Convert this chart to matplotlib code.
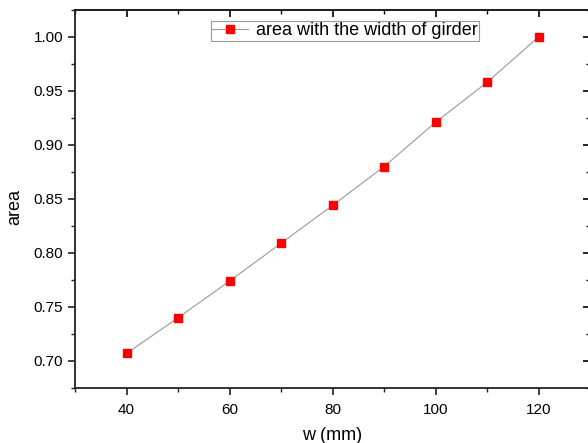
import matplotlib
matplotlib.use("Agg")
import matplotlib.pyplot as plt
from matplotlib.ticker import MultipleLocator

plt.rcParams['font.family'] = ['Liberation Sans', 'DejaVu Sans']

w = [40, 50, 60, 70, 80, 90, 100, 110, 120]
area = [0.707, 0.740, 0.774, 0.809, 0.844, 0.880, 0.921, 0.958, 1.000]

fig = plt.figure(figsize=(5.88, 4.43), dpi=100)
ax = fig.add_axes([75/588, 55/443, 515/588, 378/443])

ax.plot(w, area, color='#999999', linewidth=0.8, marker='s', markersize=6,
        markerfacecolor='red', markeredgecolor='red', label='area with the width of girder')

ax.set_xlim(30, 130)
ax.set_ylim(0.675, 1.025)
ax.xaxis.set_major_locator(MultipleLocator(20))
ax.xaxis.set_minor_locator(MultipleLocator(10))
ax.yaxis.set_major_locator(MultipleLocator(0.05))
ax.yaxis.set_minor_locator(MultipleLocator(0.025))
ax.yaxis.set_major_formatter(plt.FormatStrFormatter('%.2f'))

for s in ax.spines.values():
    s.set_linewidth(1.3)
    s.set_color('#222222')

ax.tick_params(axis='both', which='major', labelsize=11, width=1.2, length=5, color='#222222')
ax.tick_params(axis='both', which='minor', width=1.0, length=3, color='#222222')
ax.tick_params(axis='x', which='both', direction='out', bottom=True, top=False, pad=6)
ax.tick_params(axis='y', which='both', direction='out', left=True, right=False)

# top and right ticks pointing inward
sec_x = ax.secondary_xaxis('top')
sec_x.xaxis.set_major_locator(MultipleLocator(20))
sec_x.xaxis.set_minor_locator(MultipleLocator(10))
sec_x.tick_params(which='major', direction='in', length=5, width=1.2, labeltop=False)
sec_x.tick_params(which='minor', direction='in', length=3, width=1.0)
sec_x.spines['top'].set_linewidth(1.3)
sec_y = ax.secondary_yaxis('right')
sec_y.yaxis.set_major_locator(MultipleLocator(0.05))
sec_y.yaxis.set_minor_locator(MultipleLocator(0.025))
sec_y.tick_params(which='major', direction='in', length=5, width=1.2, labelright=False)
sec_y.tick_params(which='minor', direction='in', length=3, width=1.0)

ax.set_xlabel('w (mm)', fontsize=13, va='center')
ax.xaxis.set_label_coords((332 - 75) / 515, -(435 - 388) / 378)
ax.set_ylabel('area', fontsize=13, va='center')
ax.yaxis.set_label_coords(-(75 - 15) / 515, (388 - 207) / 378)

leg = ax.legend(loc='upper center', bbox_to_anchor=(0.524, 0.972), fontsize=13,
                frameon=True, fancybox=False, framealpha=1, edgecolor='#999999',
                handlelength=2.0, borderpad=0.1, handletextpad=0.4, borderaxespad=0)
leg.get_frame().set_linewidth(0.8)

fig.savefig('out.png', dpi=100)
